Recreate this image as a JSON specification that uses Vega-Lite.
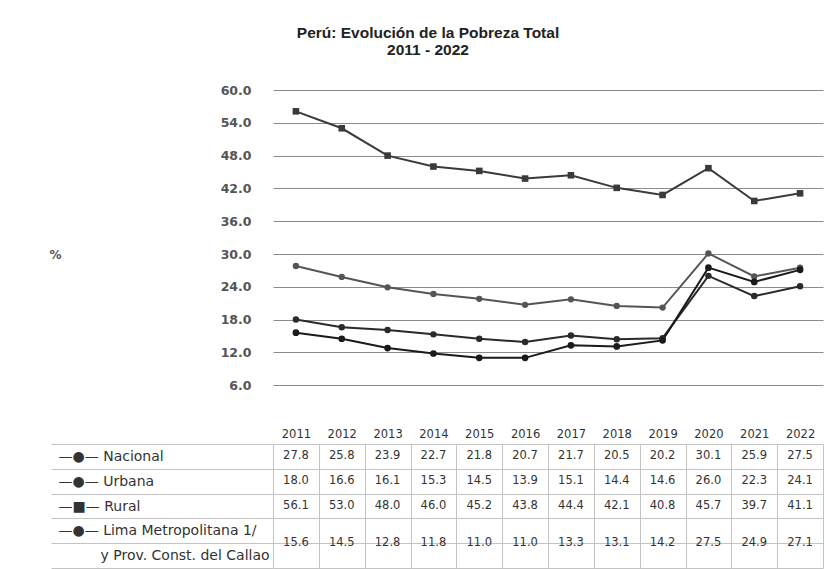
{
  "$schema": "https://vega.github.io/schema/vega-lite/v6.json",
  "background": "white",
  "padding": {"left": 48, "top": 25, "right": 8, "bottom": 0},
  "bounds": "flush",
  "spacing": 26,
  "title": {
    "text": ["Perú: Evolución de la Pobreza Total", "2011 - 2022"],
    "font": "Liberation Sans",
    "fontSize": 15.5,
    "fontWeight": "bold",
    "color": "#222",
    "anchor": "middle",
    "lineHeight": 17,
    "offset": 26,
    "dx": -8
  },
  "config": {
    "view": {"stroke": null},
    "font": "DejaVu Sans",
    "axis": {"labelFont": "DejaVu Sans", "titleFont": "DejaVu Sans"}
  },
  "data": {
    "values": [
      {"year": "2011", "serie": "Nacional", "value": 27.8},
      {"year": "2012", "serie": "Nacional", "value": 25.8},
      {"year": "2013", "serie": "Nacional", "value": 23.9},
      {"year": "2014", "serie": "Nacional", "value": 22.7},
      {"year": "2015", "serie": "Nacional", "value": 21.8},
      {"year": "2016", "serie": "Nacional", "value": 20.7},
      {"year": "2017", "serie": "Nacional", "value": 21.7},
      {"year": "2018", "serie": "Nacional", "value": 20.5},
      {"year": "2019", "serie": "Nacional", "value": 20.2},
      {"year": "2020", "serie": "Nacional", "value": 30.1},
      {"year": "2021", "serie": "Nacional", "value": 25.9},
      {"year": "2022", "serie": "Nacional", "value": 27.5},
      {"year": "2011", "serie": "Urbana", "value": 18.0},
      {"year": "2012", "serie": "Urbana", "value": 16.6},
      {"year": "2013", "serie": "Urbana", "value": 16.1},
      {"year": "2014", "serie": "Urbana", "value": 15.3},
      {"year": "2015", "serie": "Urbana", "value": 14.5},
      {"year": "2016", "serie": "Urbana", "value": 13.9},
      {"year": "2017", "serie": "Urbana", "value": 15.1},
      {"year": "2018", "serie": "Urbana", "value": 14.4},
      {"year": "2019", "serie": "Urbana", "value": 14.6},
      {"year": "2020", "serie": "Urbana", "value": 26.0},
      {"year": "2021", "serie": "Urbana", "value": 22.3},
      {"year": "2022", "serie": "Urbana", "value": 24.1},
      {"year": "2011", "serie": "Rural", "value": 56.1},
      {"year": "2012", "serie": "Rural", "value": 53.0},
      {"year": "2013", "serie": "Rural", "value": 48.0},
      {"year": "2014", "serie": "Rural", "value": 46.0},
      {"year": "2015", "serie": "Rural", "value": 45.2},
      {"year": "2016", "serie": "Rural", "value": 43.8},
      {"year": "2017", "serie": "Rural", "value": 44.4},
      {"year": "2018", "serie": "Rural", "value": 42.1},
      {"year": "2019", "serie": "Rural", "value": 40.8},
      {"year": "2020", "serie": "Rural", "value": 45.7},
      {"year": "2021", "serie": "Rural", "value": 39.7},
      {"year": "2022", "serie": "Rural", "value": 41.1},
      {"year": "2011", "serie": "Lima Metropolitana 1/", "value": 15.6},
      {"year": "2012", "serie": "Lima Metropolitana 1/", "value": 14.5},
      {"year": "2013", "serie": "Lima Metropolitana 1/", "value": 12.8},
      {"year": "2014", "serie": "Lima Metropolitana 1/", "value": 11.8},
      {"year": "2015", "serie": "Lima Metropolitana 1/", "value": 11.0},
      {"year": "2016", "serie": "Lima Metropolitana 1/", "value": 11.0},
      {"year": "2017", "serie": "Lima Metropolitana 1/", "value": 13.3},
      {"year": "2018", "serie": "Lima Metropolitana 1/", "value": 13.1},
      {"year": "2019", "serie": "Lima Metropolitana 1/", "value": 14.2},
      {"year": "2020", "serie": "Lima Metropolitana 1/", "value": 27.5},
      {"year": "2021", "serie": "Lima Metropolitana 1/", "value": 24.9},
      {"year": "2022", "serie": "Lima Metropolitana 1/", "value": 27.1}
    ]
  },
  "vconcat": [
    {
      "width": 550,
      "height": 328,
      "encoding": {
        "x": {"field": "year", "type": "ordinal", "scale": {"type": "point", "padding": 0.5}, "axis": null},
        "y": {
          "field": "value",
          "type": "quantitative",
          "scale": {"domain": [0, 60]},
          "axis": {
            "values": [6, 12, 18, 24, 30, 36, 42, 48, 54, 60],
            "format": ".1f",
            "grid": true,
            "gridColor": "#8c8c8c",
            "gridWidth": 1.2,
            "ticks": false,
            "domain": false,
            "labelPadding": 22,
            "labelFontSize": 12.5,
            "labelFontWeight": "bold",
            "labelColor": "#555",
            "title": "%",
            "titleAngle": 0,
            "titleFontSize": 12,
            "titleFontWeight": "bold",
            "titleColor": "#555",
            "titleX": -218,
            "titleY": 164,
            "titleAlign": "center",
            "titleBaseline": "middle"
          }
        },
        "color": {
          "field": "serie",
          "type": "nominal",
          "scale": {"domain": ["Nacional", "Urbana", "Rural", "Lima Metropolitana 1/"], "range": ["#555555", "#2a2a2a", "#3a3a3a", "#1a1a1a"]},
          "legend": null
        }
      },
      "layer": [
        {"mark": {"type": "line", "strokeWidth": 2}, "encoding": {"detail": {"field": "serie"}}},
        {
          "mark": {"type": "point", "filled": true, "opacity": 1},
          "encoding": {
            "shape": {
              "field": "serie",
              "type": "nominal",
              "scale": {"domain": ["Nacional", "Urbana", "Rural", "Lima Metropolitana 1/"], "range": ["circle", "circle", "square", "circle"]},
              "legend": null
            },
            "size": {
              "field": "serie",
              "type": "nominal",
              "scale": {"domain": ["Nacional", "Urbana", "Rural", "Lima Metropolitana 1/"], "range": [40, 45, 70, 45]},
              "legend": null
            }
          }
        }
      ]
    },
    {
      "width": 550,
      "height": 124,
      "encoding": {
        "x": {
          "field": "year",
          "type": "ordinal",
          "scale": {"type": "band", "paddingInner": 0, "paddingOuter": 0},
          "axis": {
            "orient": "top",
            "title": null,
            "labelAngle": 0,
            "ticks": false,
            "tickSize": 0,
            "domain": false,
            "grid": true,
            "tickBand": "extent",
            "gridColor": "#c4c4c4",
            "labelPadding": 5,
            "labelFontSize": 11.5,
            "labelColor": "#333"
          }
        },
        "text": {"field": "value", "type": "quantitative", "format": ".1f"}
      },
      "layer": [
        {
          "transform": [{"filter": "datum.serie !== 'Lima Metropolitana 1/'"}],
          "mark": {"type": "text", "fontSize": 11.5, "font": "DejaVu Sans", "color": "#333", "baseline": "middle"},
          "encoding": {
            "y": {
              "field": "serie",
              "type": "nominal",
              "sort": null,
              "scale": {"domain": ["Nacional", "Urbana", "Rural", "Lima Metropolitana 1/", "y Prov. Const. del Callao"], "paddingInner": 0, "paddingOuter": 0},
              "axis": {
                "title": null,
                "domain": false,
                "grid": true,
                "tickBand": "extent",
                "gridColor": "#c4c4c4",
                "ticks": true,
                "tickSize": 222,
                "tickColor": "#c4c4c4",
                "labelAlign": "left",
                "labelPadding": {"condition": {"test": "datum.value === 'y Prov. Const. del Callao'", "value": -49}, "value": -7},
                "labelFontSize": 14,
                "labelColor": "#333",
                "labelLimit": 260,
                "labelExpr": "!datum.value ? '' : datum.value === 'Rural' ? '—■— Rural' : datum.value === 'y Prov. Const. del Callao' ? 'y Prov. Const. del Callao' : '—●— ' + datum.value"
              }
            }
          }
        },
        {
          "transform": [{"filter": "datum.serie === 'Lima Metropolitana 1/'"}],
          "mark": {"type": "text", "fontSize": 11.5, "font": "DejaVu Sans", "color": "#333", "baseline": "middle"},
          "encoding": {
            "y": {
              "field": "serie",
              "type": "nominal",
              "sort": null,
              "bandPosition": 1,
              "scale": {"domain": ["Nacional", "Urbana", "Rural", "Lima Metropolitana 1/", "y Prov. Const. del Callao"], "paddingInner": 0, "paddingOuter": 0},
              "axis": {
                "title": null,
                "domain": false,
                "grid": true,
                "tickBand": "extent",
                "gridColor": "#c4c4c4",
                "ticks": true,
                "tickSize": 222,
                "tickColor": "#c4c4c4",
                "labelAlign": "left",
                "labelPadding": {"condition": {"test": "datum.value === 'y Prov. Const. del Callao'", "value": -49}, "value": -7},
                "labelFontSize": 14,
                "labelColor": "#333",
                "labelLimit": 260,
                "labelExpr": "!datum.value ? '' : datum.value === 'Rural' ? '—■— Rural' : datum.value === 'y Prov. Const. del Callao' ? 'y Prov. Const. del Callao' : '—●— ' + datum.value"
              }
            }
          }
        }
      ]
    }
  ]
}
